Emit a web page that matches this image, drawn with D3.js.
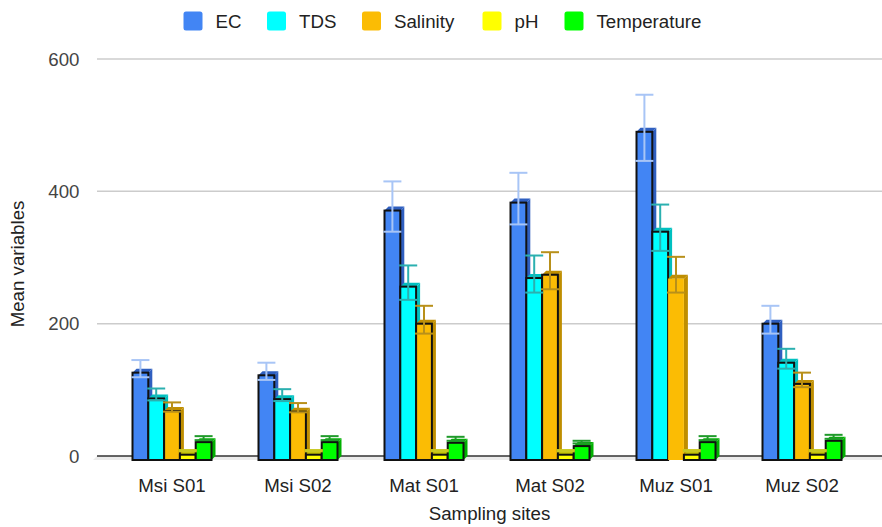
<!DOCTYPE html>
<html><head><meta charset="utf-8">
<script src="https://cdn.jsdelivr.net/npm/d3@7"></script>
<style>body{margin:0;background:#fff}svg{display:block;font-family:"Liberation Sans",Arial,sans-serif}</style>
</head><body><svg id="c" width="882" height="527"></svg>
<script>
const sites = ["Msi S01","Msi S02","Mat S01","Mat S02","Muz S01","Muz S02"];
const seriesNames = ["EC","TDS","Salinity","pH","Temperature"];
const EC = [132,128,377,389,496,206];
const TDS = [93,92,262,275,345,147];
const Salinity = [74,73,206,280,274,115];
const pH = [8,8,8,8,8,8];
const Temperature = [27,27,26,21,27,29];
const EC_err = [13,13,38,39,50,21];
const TDS_err = [9,9,26,28,35,15];
const Salinity_err = [7,7,21,28,27,11];
const pH_err = [1,1,1,1,1,1];
const Temperature_err = [3,3,3,2,3,3];
const yTicks = [0,200,400,600];

const values = [EC,TDS,Salinity,pH,Temperature];
const errors = [EC_err,TDS_err,Salinity_err,pH_err,Temperature_err];
const colors = ["#4285f4","#00ffff","#fbbc04","#ffff00","#00ff00"];
const sideColors = ["#2f5fc0","#00c0c0","#bf8e00","#c4c400","#00b000"];
const errColors = ["#a8c5f6","#2bb0b0","#b8901a","#c8c820","#1f9a2a"];
const noOutline = {site:"Muz S01", series:"Salinity"};

const FS = 18.7;
const svg = d3.select("#c");
const y = d3.scaleLinear().domain([0,600]).range([456,59]);
const x = d3.scaleBand().domain(sites).range([109,865]).paddingInner(0).paddingOuter(0);
const xs = d3.scaleBand().domain(seriesNames).range([(x.bandwidth()-79)/2,(x.bandwidth()+79)/2]);
const D = 4;

// gridlines
svg.append("g").selectAll("line").data(yTicks.filter(t=>t>0)).join("line")
  .attr("x1",97).attr("x2",882).attr("y1",d=>y(d)).attr("y2",d=>y(d))
  .attr("stroke","#cccccc").attr("stroke-width",1.5);
// floor
svg.append("path").attr("d",`M97,${y(0)} L882,${y(0)} L882,${y(0)+D} L93,${y(0)+D} Z`).attr("fill","#ebebeb");
svg.append("line").attr("x1",97).attr("x2",882).attr("y1",y(0)).attr("y2",y(0)).attr("stroke","#333").attr("stroke-width",1.5);

// y tick labels
svg.append("g").selectAll("text").data(yTicks).join("text")
  .attr("x",79.5).attr("y",d=>y(d)+6.5).attr("text-anchor","end")
  .attr("font-size",FS).attr("fill","#444").text(d=>d);

// bars
const gBars = svg.append("g");
sites.forEach((s,i)=>{
  seriesNames.forEach((n,j)=>{
    const v = values[j][i];
    const x0 = x(s)+xs(n), w = xs.bandwidth();
    const yt = y(v)+D, yb = y(0)+D;
    const g = gBars.append("g");
    g.append("path").attr("d",`M${x0},${yt} L${x0+D},${yt-D} L${x0+w+D},${yt-D} L${x0+w},${yt} Z`).attr("fill",sideColors[j]);
    g.append("path").attr("d",`M${x0+w},${yt} L${x0+w+D},${yt-D} L${x0+w+D},${yb-D} L${x0+w},${yb} Z`).attr("fill",sideColors[j]);
    const outline = !(s===noOutline.site && n===noOutline.series);
    g.append("rect").attr("x",x0).attr("y",yt).attr("width",w).attr("height",yb-yt)
      .attr("fill",colors[j]).attr("stroke",outline?"#111":"none").attr("stroke-width",outline?2:0);
  });
});
// error bars
const gErr = svg.append("g");
sites.forEach((s,i)=>{
  seriesNames.forEach((n,j)=>{
    const v = values[j][i], e = errors[j][i];
    const cx = x(s)+xs(n)+xs.bandwidth()/2;
    const g = gErr.append("g").attr("stroke",errColors[j]).attr("stroke-width",2);
    g.append("line").attr("x1",cx).attr("x2",cx).attr("y1",y(v+e)).attr("y2",y(v-e));
    g.append("line").attr("x1",cx-9).attr("x2",cx+9).attr("y1",y(v+e)).attr("y2",y(v+e));
    g.append("line").attr("x1",cx-9).attr("x2",cx+9).attr("y1",y(v-e)).attr("y2",y(v-e));
  });
});

// x labels
svg.append("g").selectAll("text").data(sites).join("text")
  .attr("x",d=>x(d)+x.bandwidth()/2).attr("y",492).attr("text-anchor","middle")
  .attr("font-size",FS).attr("fill","#222").text(d=>d);
svg.append("text").attr("x",489.5).attr("y",520).attr("text-anchor","middle")
  .attr("font-size",FS).attr("fill","#222").text("Sampling sites");
svg.append("text").attr("transform","translate(24,264) rotate(-90)").attr("text-anchor","middle")
  .attr("font-size",FS).attr("fill","#222").text("Mean variables");

// legend
const legX = [183.5,267,362,482.5,564.5];
const lg = svg.append("g");
seriesNames.forEach((n,j)=>{
  lg.append("rect").attr("x",legX[j]).attr("y",11.5).attr("width",19).attr("height",19).attr("rx",2.5).attr("fill",colors[j]);
  lg.append("text").attr("x",legX[j]+32).attr("y",27.5).attr("font-size",FS).attr("fill","#222").text(n);
});
</script></body></html>
